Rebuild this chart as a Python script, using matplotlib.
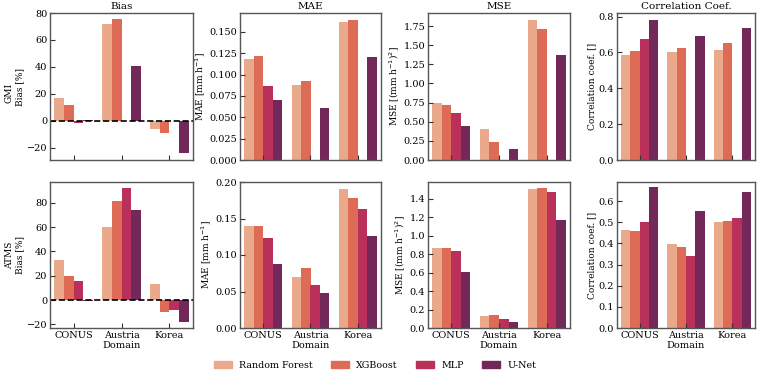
import numpy as np
import matplotlib.pyplot as plt
from matplotlib.patches import Patch

plt.rcParams['font.family'] = 'DejaVu Serif'

domains = ['CONUS', 'Austria', 'Korea']
models = ['Random Forest', 'XGBoost', 'MLP', 'U-Net']
colors = ['#eaa98b', '#de6b56', '#b9305a', '#73285a']
nan = np.nan

# values[model] = [CONUS, Austria, Korea]
gmi_bias = {'Random Forest': [17, 72, -6], 'XGBoost': [12, 75.5, -9],
            'MLP': [-1.5, nan, nan], 'U-Net': [1, 41, -24]}
gmi_mae = {'Random Forest': [0.118, 0.088, 0.162], 'XGBoost': [0.122, 0.092, 0.164],
           'MLP': [0.087, nan, nan], 'U-Net': [0.070, 0.061, 0.120]}
gmi_mse = {'Random Forest': [0.75, 0.41, 1.83], 'XGBoost': [0.72, 0.24, 1.71],
           'MLP': [0.62, nan, nan], 'U-Net': [0.45, 0.14, 1.37]}
gmi_corr = {'Random Forest': [0.585, 0.605, 0.615], 'XGBoost': [0.61, 0.625, 0.655],
            'MLP': [0.675, nan, nan], 'U-Net': [0.78, 0.69, 0.735]}

atms_bias = {'Random Forest': [33, 60, 13], 'XGBoost': [20, 81, -10],
             'MLP': [16, 92, -8], 'U-Net': [-1, 74, -18]}
atms_mae = {'Random Forest': [0.140, 0.070, 0.191], 'XGBoost': [0.140, 0.082, 0.178],
            'MLP': [0.123, 0.059, 0.163], 'U-Net': [0.087, 0.048, 0.126]}
atms_mse = {'Random Forest': [0.87, 0.13, 1.50], 'XGBoost': [0.87, 0.14, 1.52],
            'MLP': [0.83, 0.10, 1.47], 'U-Net': [0.61, 0.07, 1.17]}
atms_corr = {'Random Forest': [0.465, 0.395, 0.50], 'XGBoost': [0.46, 0.383, 0.505],
             'MLP': [0.50, 0.34, 0.52], 'U-Net': [0.665, 0.553, 0.645]}

titles = ['Bias', 'MAE', 'MSE', 'Correlation Coef.']
ylabels = ['Bias [%]', r'MAE [mm h$^{-1}$]', r'MSE [(mm h$^{-1}$)$^2$]', 'Correlation coef. []']
rows = [('GMI', [gmi_bias, gmi_mae, gmi_mse, gmi_corr]),
        ('ATMS', [atms_bias, atms_mae, atms_mse, atms_corr])]

W, H = 759, 370
fig = plt.figure(figsize=(W / 100, H / 100), dpi=100)
col_px = [(50, 193), (240, 381), (428, 570), (617, 755)]
row_px = [(13, 160), (182, 328)]

x = np.arange(len(domains))
w = 0.2
axes = np.empty((2, 4), dtype=object)
for r, (sensor, datasets) in enumerate(rows):
    for c, data in enumerate(datasets):
        x0, x1 = col_px[c]
        y0, y1 = row_px[r]
        ax = fig.add_axes([x0 / W, 1 - y1 / H, (x1 - x0) / W, (y1 - y0) / H])
        axes[r, c] = ax
        for i, m in enumerate(models):
            ax.bar(x + (i - 1.5) * w, data[m], width=w, color=colors[i], label=m)
        if c == 0:
            ax.axhline(0, color='k', ls='--', lw=1.2)
        ax.set_xlim(-0.49, 2.49)
        ax.set_xticks(x)
        if r == 1:
            ax.set_xticklabels(domains)
            ax.set_xlabel('Domain', fontsize=7, labelpad=1)
        else:
            ax.set_xticklabels([])
            ax.set_title(titles[c], fontsize=7.5, pad=3)
        ax.set_ylabel(ylabels[c], fontsize=6.5, labelpad=2)
        ax.tick_params(direction='in', labelsize=7, color='#333333', pad=2)
        for s in ax.spines.values():
            s.set_color('#555555')
            s.set_linewidth(1.0)
    fig.text(0.006, [0.75, 0.31][r], sensor, rotation=90, va='center', ha='left', fontsize=6.5)

axes[0, 0].set_ylim(-29, 80)
axes[0, 0].set_yticks([-20, 0, 20, 40, 60, 80])
axes[1, 0].set_ylim(-23, 97)
axes[1, 0].set_yticks([-20, 0, 20, 40, 60, 80])
axes[0, 1].set_ylim(0, 0.172)
axes[0, 1].set_yticks(np.arange(0, 0.16, 0.025))
axes[0, 1].set_yticklabels([f'{v:.3f}' for v in np.arange(0, 0.16, 0.025)])
axes[1, 1].set_ylim(0, 0.2)
axes[1, 1].set_yticks(np.arange(0, 0.21, 0.05))
axes[1, 1].set_yticklabels([f'{v:.2f}' for v in np.arange(0, 0.21, 0.05)])
axes[0, 2].set_ylim(0, 1.92)
axes[0, 2].set_yticks(np.arange(0, 1.8, 0.25))
axes[1, 2].set_ylim(0, 1.58)
axes[1, 2].set_yticks(np.arange(0, 1.41, 0.2))
axes[0, 3].set_ylim(0, 0.82)
axes[0, 3].set_yticks(np.arange(0, 0.81, 0.2))
axes[1, 3].set_ylim(0, 0.69)
axes[1, 3].set_yticks(np.arange(0, 0.61, 0.1))

handles = [Patch(color=colors[i], label=m) for i, m in enumerate(models)]
fig.legend(handles=handles, loc='center', ncol=4, frameon=False, fontsize=6.8,
           bbox_to_anchor=(0.494, 0.012), columnspacing=1.9, handlelength=1.9,
           handletextpad=0.8)

fig.savefig('out.png', dpi=100)
